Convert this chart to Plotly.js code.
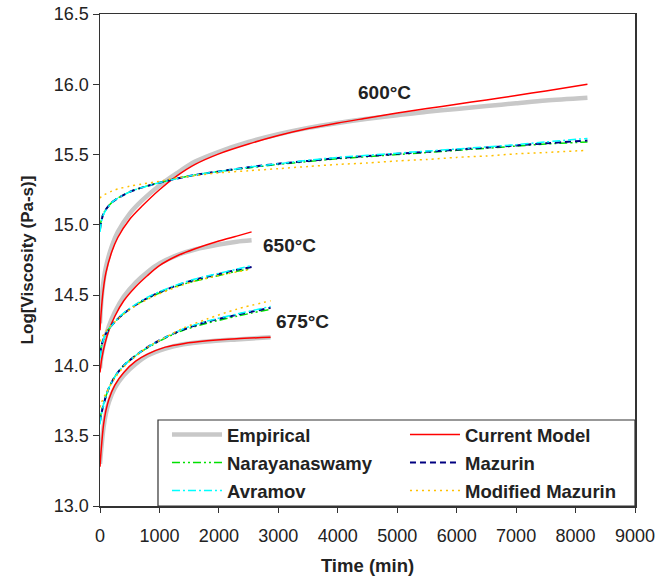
<!DOCTYPE html>
<html>
<head>
<meta charset="utf-8">
<script src="https://cdn.plot.ly/plotly-3.0.1.min.js"></script>
<style>html,body{margin:0;padding:0;background:#fff;}#chart{width:669px;height:581px;}</style>
</head>
<body>
<div id="chart"></div>
<script>
// Time axes (min) for each temperature
var t600 = [0, 20, 50, 100, 200, 300, 500, 700, 1000, 1300, 1600, 2000, 2500, 3000, 3500, 4000, 4500, 5000, 5500, 6000, 6500, 7000, 7500, 8200];
var t650 = [0, 30, 80, 150, 250, 400, 600, 800, 1000, 1300, 1600, 2000, 2300, 2550];
var t675 = [0, 20, 60, 100, 150, 250, 400, 600, 800, 1100, 1400, 1800, 2300, 2870];

// 600 °C
var emp600 = [14.3, 14.44, 14.57, 14.70, 14.85, 14.95, 15.08, 15.17, 15.28, 15.37, 15.45, 15.52, 15.59, 15.645, 15.69, 15.725, 15.755, 15.78, 15.805, 15.825, 15.845, 15.865, 15.885, 15.905];
var cur600 = [14.25, 14.38, 14.52, 14.66, 14.81, 14.91, 15.04, 15.13, 15.25, 15.35, 15.43, 15.505, 15.575, 15.635, 15.685, 15.725, 15.76, 15.795, 15.827, 15.858, 15.889, 15.92, 15.953, 16.0];
var nar600 = [14.98, 15.03, 15.075, 15.11, 15.16, 15.19, 15.235, 15.265, 15.30, 15.33, 15.355, 15.38, 15.405, 15.43, 15.45, 15.47, 15.485, 15.50, 15.515, 15.53, 15.545, 15.56, 15.575, 15.59];
var maz600 = [14.97, 15.02, 15.07, 15.11, 15.16, 15.19, 15.235, 15.265, 15.30, 15.33, 15.355, 15.38, 15.41, 15.435, 15.455, 15.475, 15.49, 15.505, 15.52, 15.535, 15.55, 15.565, 15.58, 15.60];
var avr600 = [14.95, 15.01, 15.065, 15.105, 15.16, 15.19, 15.235, 15.265, 15.30, 15.33, 15.355, 15.38, 15.41, 15.435, 15.46, 15.48, 15.495, 15.51, 15.525, 15.54, 15.555, 15.57, 15.59, 15.615];
var mod600 = [15.19, 15.20, 15.21, 15.22, 15.24, 15.255, 15.275, 15.29, 15.31, 15.335, 15.35, 15.37, 15.385, 15.40, 15.415, 15.43, 15.44, 15.455, 15.465, 15.48, 15.49, 15.505, 15.515, 15.53];

// 650 °C
var emp650 = [13.98, 14.08, 14.18, 14.28, 14.38, 14.49, 14.59, 14.665, 14.725, 14.785, 14.825, 14.86, 14.88, 14.89];
var cur650 = [13.95, 14.05, 14.15, 14.25, 14.35, 14.46, 14.56, 14.64, 14.71, 14.78, 14.83, 14.885, 14.92, 14.95];
var nar650 = [14.09, 14.15, 14.21, 14.26, 14.31, 14.37, 14.43, 14.475, 14.515, 14.565, 14.60, 14.64, 14.67, 14.69];
var maz650 = [14.08, 14.15, 14.21, 14.26, 14.31, 14.37, 14.43, 14.48, 14.52, 14.57, 14.61, 14.65, 14.68, 14.70];
var avr650 = [14.05, 14.14, 14.21, 14.26, 14.31, 14.375, 14.435, 14.485, 14.525, 14.575, 14.615, 14.655, 14.685, 14.71];
var mod650 = [14.17, 14.20, 14.23, 14.27, 14.31, 14.365, 14.425, 14.47, 14.51, 14.56, 14.60, 14.64, 14.665, 14.685];

// 675 °C
var emp675 = [13.30, 13.40, 13.56, 13.66, 13.74, 13.84, 13.93, 14.01, 14.07, 14.12, 14.15, 14.17, 14.185, 14.20];
var cur675 = [13.28, 13.40, 13.58, 13.68, 13.76, 13.86, 13.95, 14.03, 14.08, 14.13, 14.155, 14.175, 14.19, 14.20];
var nar675 = [13.61, 13.66, 13.73, 13.78, 13.84, 13.92, 14.00, 14.07, 14.125, 14.195, 14.25, 14.30, 14.35, 14.40];
var maz675 = [13.60, 13.65, 13.72, 13.78, 13.84, 13.92, 14.00, 14.07, 14.13, 14.20, 14.255, 14.31, 14.36, 14.41];
var avr675 = [13.58, 13.64, 13.72, 13.78, 13.84, 13.92, 14.00, 14.07, 14.13, 14.20, 14.26, 14.315, 14.365, 14.42];
var mod675 = [13.70, 13.73, 13.77, 13.80, 13.84, 13.91, 13.99, 14.065, 14.13, 14.20, 14.265, 14.33, 14.40, 14.46];

var seriesNames = ["Empirical", "Current Model", "Narayanaswamy", "Mazurin", "Avramov", "Modified Mazurin"];
var tempLabels = ["600°C", "650°C", "675°C"];
var tempLabelX = [4780, 3190, 3400];
var tempLabelY = [15.94, 14.85, 14.31];

function joinGroups(a, b, c) { return a.concat([null], b, [null], c); }
var xs = joinGroups(t600, t650, t675);
var ys = [
  joinGroups(emp600, emp650, emp675),
  joinGroups(cur600, cur650, cur675),
  joinGroups(nar600, nar650, nar675),
  joinGroups(maz600, maz650, maz675),
  joinGroups(avr600, avr650, avr675),
  joinGroups(mod600, mod650, mod675)
];
var styles = [
  {color: "#c8c8c8", width: 4.5, dash: "solid"},
  {color: "#ff0000", width: 1.5, dash: "solid"},
  {color: "#00e000", width: 1.5, dash: "8px,3px,2px,3px,2px,3px"},
  {color: "#000080", width: 2, dash: "6px,4px"},
  {color: "#00ffff", width: 1.5, dash: "8px,3px,2px,3px"},
  {color: "#ffc000", width: 1.5, dash: "2px,4px"}
];
var legendRefs = ["legend", "legend", "legend2", "legend2", "legend3", "legend3"];

var traces = seriesNames.map(function (n, i) {
  return {
    type: "scatter", mode: "lines", name: n, x: xs, y: ys[i],
    connectgaps: false, legend: legendRefs[i],
    line: {color: styles[i].color, width: styles[i].width, dash: styles[i].dash, shape: "spline", smoothing: 0.8}
  };
});

var annotations = tempLabels.map(function (s, i) {
  return {x: tempLabelX[i], y: tempLabelY[i], xref: "x", yref: "y", text: s, showarrow: false,
    font: {family: "Liberation Sans, Arial, sans-serif", size: 19, color: "#222", weight: "bold"}};
});

function legendRow(yPos) {
  return {
    orientation: "h", x: 0.1252, xanchor: "left", y: yPos, yanchor: "middle",
    bgcolor: "rgba(0,0,0,0)", borderwidth: 0,
    entrywidth: 173, entrywidthmode: "pixels", itemwidth: 50,
    font: {family: "Liberation Sans, Arial, sans-serif", size: 18.5, weight: "bold", color: "#222"}
  };
}

var layout = {
  width: 669, height: 581,
  margin: {l: 100, r: 34, t: 14, b: 75},
  paper_bgcolor: "#fff", plot_bgcolor: "#fff",
  showlegend: true,
  font: {family: "Liberation Sans, Arial, sans-serif", size: 18, color: "#222"},
  xaxis: {
    range: [0, 9000], dtick: 1000, tick0: 0, showgrid: false, zeroline: false,
    ticks: "outside", ticklen: 5, tickcolor: "#333", tickwidth: 1, ticklabelstandoff: 8,
    showline: true, linecolor: "#333", linewidth: 1.5, mirror: true,
    tickfont: {size: 18, color: "#222"},
    title: {text: "Time (min)", font: {size: 18.5, weight: "bold", color: "#222"}, standoff: 14}
  },
  yaxis: {
    range: [13, 16.5], dtick: 0.5, tick0: 13, tickformat: ".1f", showgrid: false, zeroline: false,
    ticks: "outside", ticklen: 6, tickcolor: "#333", tickwidth: 1,
    showline: true, linecolor: "#333", linewidth: 1.5, mirror: true,
    tickfont: {size: 18, color: "#222"},
    title: {text: "Log[Viscosity (Pa-s)]", font: {size: 17, weight: "bold", color: "#222"}, standoff: 16}
  },
  legend: legendRow(0.1443),
  legend2: legendRow(0.0874),
  legend3: legendRow(0.0305),
  shapes: [{type: "rect", xref: "paper", yref: "paper", x0: 0.1084, x1: 1, y0: 0, y1: 0.1748,
    line: {color: "#333", width: 1.2}, fillcolor: "rgba(0,0,0,0)", layer: "above"}],
  annotations: annotations
};

Plotly.newPlot("chart", traces, layout, {staticPlot: true, displayModeBar: false});
</script>
</body>
</html>
